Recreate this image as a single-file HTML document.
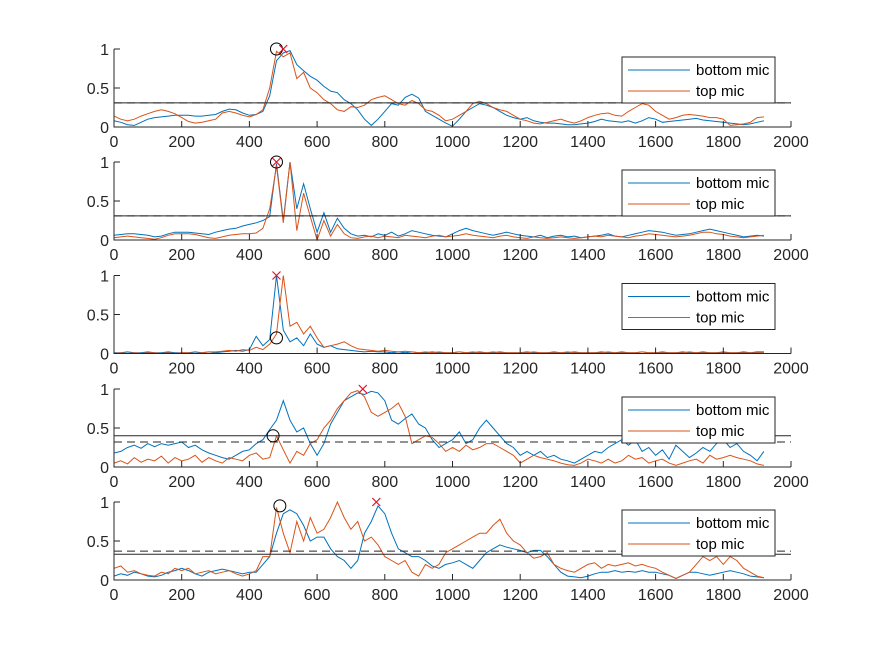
<!DOCTYPE html>
<html><head><meta charset="utf-8"><style>
html,body{margin:0;padding:0;background:#fff;}
svg{display:block;font-family:"Liberation Sans",Arial,sans-serif;}
</style></head><body>
<svg id="fig" width="875" height="656" viewBox="0 0 875 656" xmlns="http://www.w3.org/2000/svg"></svg>
<script>
const xs = []; for (let i = 0; i <= 1920; i += 20) xs.push(i);
const xTicks = [0,200,400,600,800,1000,1200,1400,1600,1800,2000];
const yTicks = [0,0.5,1];
const yTickLabels = ['0','0.5','1'];
const seriesNames = ['bottom mic','top mic'];

const b1 = [.08,.06,.03,.02,.06,.1,.12,.13,.14,.15, .15,.15,.14,.14,.15,.16,.2,.23,.22,.18, .15,.16,.2,.4,.85,.95,.98,.8,.72,.65, .6,.52,.46,.44,.35,.3,.22,.1,.02,.1, .2,.3,.28,.38,.42,.37,.2,.15,.1,.05, .01,.1,.2,.25,.3,.28,.25,.2,.15,.12, .1,.12,.08,.06,.05,.05,.04,.03,.03,.04, .05,.07,.1,.08,.07,.06,.08,.05,.08,.12, .1,.06,.07,.08,.09,.1,.11,.09,.08,.07, .06,.05,.04,.03,.04,.06,.08];
const t1 = [.14,.1,.08,.1,.14,.17,.2,.22,.2,.17, .12,.07,.05,.06,.08,.1,.18,.2,.18,.15, .13,.16,.22,.5,.97,.9,.95,.62,.7,.5, .44,.35,.3,.22,.2,.26,.25,.28,.35,.38, .4,.35,.3,.28,.34,.3,.22,.2,.15,.08, .1,.15,.2,.3,.33,.3,.25,.22,.2,.15, .1,.08,.05,.04,.06,.08,.1,.07,.05,.08, .12,.15,.17,.18,.15,.14,.2,.25,.3,.28, .2,.15,.1,.12,.15,.16,.15,.14,.12,.12, .1,.02,.03,.04,.06,.12,.13];
const b2 = [.06,.07,.08,.08,.07,.06,.04,.05,.08,.1, .1,.1,.09,.08,.07,.1,.12,.14,.15,.18, .2,.22,.25,.3,.98,.25,1,.4,.72,.4, .1,.35,.1,.28,.15,.08,.05,.06,.04,.08, .06,.1,.05,.08,.12,.1,.08,.06,.05,.04, .08,.12,.15,.12,.1,.08,.06,.08,.1,.08, .06,.05,.04,.06,.03,.05,.06,.04,.05,.03, .04,.05,.06,.08,.05,.04,.06,.08,.1,.12, .11,.1,.08,.06,.07,.08,.1,.12,.14,.12, .1,.08,.06,.04,.05,.06,.05];
const t2 = [.03,.04,.05,.04,.03,.02,.01,.03,.06,.08, .08,.08,.07,.05,.03,.02,.04,.06,.07,.08, .08,.09,.15,.4,.95,.22,1,.12,.6,.3, 0,.25,.05,.2,.08,.03,.02,.04,.05,.03, .05,.04,.03,.06,.05,.04,.03,.05,.06,.04, .05,.06,.08,.06,.05,.04,.03,.05,.06,.04, .03,.02,.04,.03,.02,.03,.04,.03,.02,.03, .04,.05,.04,.06,.05,.04,.03,.05,.06,.08, .07,.06,.05,.04,.05,.06,.08,.1,.1,.08, .07,.05,.04,.03,.04,.05,.06];
const b3 = [.01,.01,.02,.01,.01,.02,.01,.01,.02,.01, .01,.01,.02,.01,.02,.01,.02,.03,.04,.03, .05,.22,.1,.18,1,.3,.15,.2,.1,.25, .12,.08,.1,.06,.05,.04,.03,.02,.03,.02, .02,.01,.02,.01,.02,.01,.01,.02,.01,.01, .01,.02,.01,.01,.02,.01,.01,.02,.01,.01, .01,.02,.01,.01,.01,.02,.01,.01,.02,.01, .01,.01,.02,.01,.01,.02,.01,.01,.02,.01, .01,.02,.01,.01,.02,.01,.01,.02,.01,.01, .02,.01,.01,.02,.01,.02,.02];
const t3 = [0,.01,0,.01,0,.01,.01,0,.01,0, .01,.01,0,.01,.02,.02,.03,.04,.03,.05, .04,.08,.05,.12,.25,1,.35,.4,.25,.35, .2,.08,.1,.12,.15,.1,.06,.05,.04,.03, .04,.03,.02,.03,.02,.01,.02,.01,.02,.01, .01,.02,.01,.02,.01,.01,.02,.01,.01,.01, .01,.01,.02,.01,.01,.01,.01,.02,.01,.01, .01,.01,.01,.02,.01,.01,.01,.01,.02,.01, .01,.01,.01,.01,.01,.02,.01,.01,.01,.01, .01,.01,.01,.01,.01,.01,.01];
const b4 = [.18,.2,.25,.28,.24,.3,.26,.3,.28,.3, .32,.25,.28,.22,.18,.15,.12,.1,.15,.2, .22,.3,.35,.48,.6,.85,.6,.45,.5,.3, .15,.3,.55,.7,.85,.9,.95,.93,.97,.95, .85,.6,.55,.62,.68,.55,.5,.35,.25,.3, .35,.45,.3,.35,.5,.6,.5,.4,.3,.25, .15,.2,.15,.2,.12,.15,.1,.08,.05,.1, .15,.2,.18,.25,.3,.35,.28,.35,.2,.25, .15,.22,.1,.28,.2,.12,.18,.25,.2,.3, .35,.25,.3,.2,.15,.08,.2];
const t4 = [.05,.08,.04,.12,.06,.1,.08,.14,.05,.12, .08,.1,.15,.06,.12,.08,.05,.12,.1,.08, .15,.18,.1,.12,.4,.22,.05,.2,.15,.3, .35,.5,.6,.75,.85,.95,.98,.9,.7,.65, .7,.75,.82,.65,.3,.35,.4,.38,.3,.2, .25,.2,.28,.22,.25,.3,.3,.25,.2,.15, .05,.1,.15,.12,.1,.08,.05,.03,.02,.05, .1,.08,.05,.1,.05,.08,.15,.1,.12,.05, .08,.1,.05,.02,.05,.08,.1,.05,.15,.1, .12,.15,.12,.1,.08,.04,.02];
const b5 = [.05,.08,.06,.1,.08,.05,.04,.06,.1,.12, .15,.12,.08,.05,.1,.12,.14,.12,.1,.08, .1,.1,.2,.3,.6,.85,.9,.85,.7,.5, .55,.55,.4,.3,.25,.15,.25,.6,.75,.95, .85,.6,.4,.35,.3,.3,.25,.18,.15,.2, .22,.25,.2,.15,.25,.35,.4,.45,.42,.4, .38,.35,.38,.38,.3,.2,.1,.05,.04,.03, .05,.08,.1,.1,.12,.1,.11,.1,.12,.1, .1,.08,.06,.02,.06,.1,.1,.08,.06,.08, .1,.12,.1,.08,.05,.04,.03];
const t5 = [.15,.18,.1,.12,.08,.06,.05,.1,.08,.15, .12,.15,.08,.1,.12,.08,.1,.12,.08,.05, .08,.12,.3,.3,.93,.6,.35,.75,.5,.8, .6,.65,.8,1,.8,.65,.75,.5,.55,.45, .3,.25,.2,.25,.1,.05,.2,.15,.2,.35, .4,.45,.5,.55,.6,.6,.7,.78,.6,.5, .45,.35,.28,.3,.35,.2,.15,.12,.1,.15, .2,.22,.15,.2,.18,.2,.22,.18,.2,.17, .15,.1,.06,.02,.06,.1,.2,.3,.25,.3, .2,.3,.25,.15,.1,.05,.03];
const bottomSeries = [b1,b2,b3,b4,b5];
const topSeries = [t1,t2,t3,t4,t5];
const solidThresholds = [0.31,0.31,null,0.4,0.33];
const dashedThresholds = [0.31,0.31,null,0.32,0.37];
const circleX = [480,480,480,470,490];
const circleY = [1,1,0.2,0.4,0.95];
const crossX = [500,480,480,735,775];
const crossY = [1,1,1,1,1];

const NS = 'http://www.w3.org/2000/svg';
const svg = document.getElementById('fig');
const X0 = 114, X1 = 791, H = 78;
const tops = [49,162,275.5,389,502];
function sx(v){ return X0 + (v/2000)*(X1-X0); }
function mk(tag, attrs, parent){ const e = document.createElementNS(NS, tag); for (const k in attrs) e.setAttribute(k, attrs[k]); (parent||svg).appendChild(e); return e; }

for (let p = 0; p < 5; p++) {
  const top = tops[p];
  const sy = v => top + H - v*H;
  const g = mk('g', {});
  
  
  [[bottomSeries[p], '#0072BD', 'bottom-mic-line'], [topSeries[p], '#D95319', 'top-mic-line']].forEach(s => {
    let d = '';
    s[0].forEach((v,i) => { d += (i ? 'L' : 'M') + sx(xs[i]).toFixed(1) + ',' + sy(v).toFixed(1); });
    const pth = mk('path', {d: d, fill: 'none', stroke: s[1], 'stroke-width': 1}, g);
    
    
  });
  if (solidThresholds[p] !== null) {
    const l = mk('line', {x1: X0, x2: X1, y1: sy(solidThresholds[p]), y2: sy(solidThresholds[p]), stroke: '#262626', 'stroke-width': 1}, g);
    
    
  }
  if (dashedThresholds[p] !== null) {
    const l = mk('line', {x1: X0, x2: X1, y1: sy(dashedThresholds[p]), y2: sy(dashedThresholds[p]), stroke: '#262626', 'stroke-width': 1, 'stroke-dasharray': '8,5'}, g);
    
    
  }
  const c = mk('circle', {cx: sx(circleX[p]), cy: sy(circleY[p]), r: 6, fill: 'none', stroke: '#000', 'stroke-width': 1}, g);
  
  
  const cx = sx(crossX[p]), cy = sy(crossY[p]);
  const xm = mk('path', {d: `M${cx-4},${cy-4}L${cx+4},${cy+4}M${cx-4},${cy+4}L${cx+4},${cy-4}`, stroke: '#E0102A', 'stroke-width': 1.2, fill: 'none'}, g);
  
  
  const ax = mk('path', {d: `M${X0},${top}V${top+H}H${X1}`, stroke: '#262626', 'stroke-width': 1, fill: 'none'}, g);
  
  
  xTicks.forEach(t => {
    const x = sx(t);
    mk('line', {x1: x, x2: x, y1: top+H, y2: top+H-6, stroke: '#262626'}, g);
    const tx = mk('text', {x: x, y: top+H+20, 'font-size': 16, fill: '#262626', 'text-anchor': 'middle'}, g);
    tx.textContent = t;
    
    
  });
  yTicks.forEach((t,i) => {
    const y = sy(t);
    mk('line', {x1: X0, x2: X0+6, y1: y, y2: y, stroke: '#262626'}, g);
    const tx = mk('text', {x: X0-5, y: y+6, 'font-size': 16, fill: '#262626', 'text-anchor': 'end'}, g);
    tx.textContent = yTickLabels[i];
    
    
  });
  const lg = mk('g', {}, g);
  
  
  const ly = top + 8;
  mk('rect', {x: 622, y: ly, width: 153, height: 46, fill: '#fff', stroke: '#262626', 'stroke-width': 1}, lg);
  [['#0072BD', 0], ['#D95319', 1]].forEach(e => {
    const yy = ly + 13 + e[1]*21;
    mk('line', {x1: 628, x2: 690, y1: yy, y2: yy, stroke: e[0], 'stroke-width': 1}, lg);
    const tx = mk('text', {x: 696, y: yy + 5, 'font-size': 15, fill: '#000'}, lg);
    tx.textContent = seriesNames[e[1]];
    
    
  });
}
</script>
</body></html>
